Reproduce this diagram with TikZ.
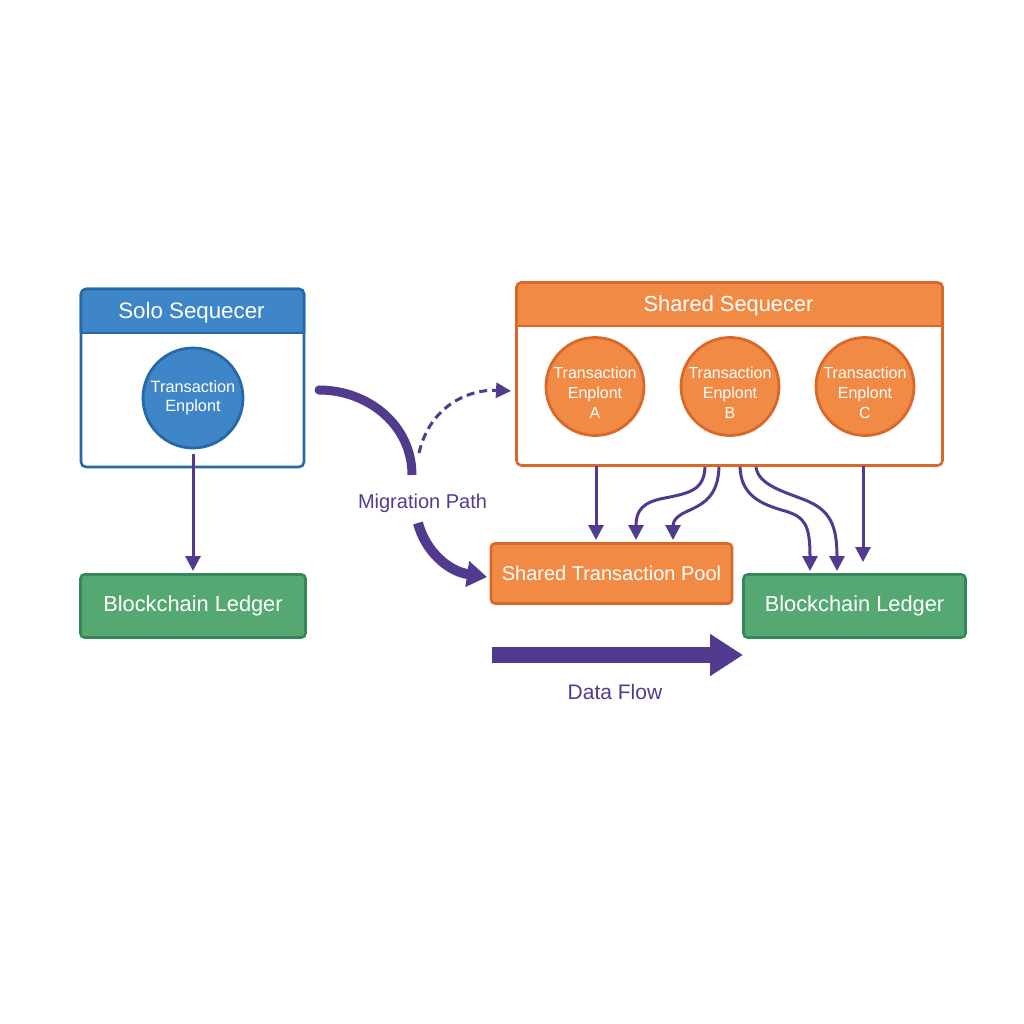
\documentclass[tikz,border=0pt]{standalone}
\usepackage{fontspec}
\setmainfont{Liberation Sans}
\usetikzlibrary{arrows.meta,calc,positioning}
\definecolor{blueF}{HTML}{3F86C8}
\definecolor{blueD}{HTML}{2768A8}
\definecolor{orF}{HTML}{F08A45}
\definecolor{orD}{HTML}{D9682B}
\definecolor{grF}{HTML}{55A871}
\definecolor{grD}{HTML}{36865A}
\definecolor{pur}{HTML}{523A8E}
\tikzset{
  x=1pt,y=-1pt,
  every node/.style={inner sep=0pt,outer sep=0pt},
  boxN/.style={draw,line width=2.6pt,rounded corners=5pt,fill=white,anchor=north west},
  solidbox/.style={draw,line width=2.6pt,rounded corners=4pt,anchor=north west,text=white},
  ledgerT/.style={font=\fontsize{21.8}{24}\selectfont},
  titleT/.style={text=white,font=\fontsize{21.8}{24}\selectfont},
  circT/.style={circle,draw,line width=2.8pt,text=white,align=center},
  triT/.style={text=white,align=center,font=\fontsize{16}{20}\selectfont},
  link/.style={draw=pur,line width=3pt,-{Triangle[length=15pt,width=15pt]}},
  purT/.style={text=pur,font=\fontsize{20}{24}\selectfont}
}
\newcommand{\lowered}[2]{\raisebox{-#1pt}{#2}}
\begin{document}
\begin{tikzpicture}
\useasboundingbox (0,0) rectangle (1024,1024);
% Solo sequencer
\node[boxN,draw=blueD,minimum width=223pt,minimum height=178pt] (solo) at (81,289) {};
\fill[blueF,rounded corners=5pt] (81,300) -- (81,289) -- (304,289) -- (304,300) -- cycle;
\fill[blueF] (81,296) rectangle (304,333);
\draw[blueD,line width=2.6pt,rounded corners=5pt] (81,333) -- (81,289) -- (304,289) -- (304,333);
\draw[blueD,line width=2.2pt] (81,333) -- (304,333);
\node[titleT,font=\fontsize{22.3}{24}\selectfont] (soloT) at (191.5,313) {Solo Sequecer};
\node[circT,fill=blueF,draw=blueD,minimum size=100pt,font=\fontsize{16.3}{19.5}\selectfont] (soloC) at (193,398) {Transaction\\Enplont};
% Shared sequencer
\node[boxN,draw=orD,minimum width=426pt,minimum height=183pt] (shared) at (516.5,282.5) {};
\fill[orF,rounded corners=5pt] (516.5,295) -- (516.5,282.5) -- (942.5,282.5) -- (942.5,295) -- cycle;
\fill[orF] (516.5,290) rectangle (942.5,326);
\draw[orD,line width=2.6pt,rounded corners=5pt] (516.5,326) -- (516.5,282.5) -- (942.5,282.5) -- (942.5,326);
\draw[orD,line width=2.2pt] (516.5,326) -- (942.5,326);
\node[titleT] (sharedT) at (728.5,306) {Shared Sequecer};
\node[circT,fill=orF,draw=orD,minimum size=98pt] (epA) at (595,386.5) {};
\node[circT,fill=orF,draw=orD,minimum size=98pt] (epB) at (730,386.5) {};
\node[circT,fill=orF,draw=orD,minimum size=98pt] (epC) at (865,386.5) {};
\node[triT] (epAT) at (595,393) {Transaction\\Enplont\\A};
\node[triT] (epBT) at (730,393) {Transaction\\Enplont\\B};
\node[triT] (epCT) at (865,393) {Transaction\\Enplont\\C};
% Lower boxes
\node[solidbox,ledgerT,fill=grF,draw=grD,minimum width=225pt,minimum height=63pt] (ledgerL) at (80.5,574.5) {\lowered{3}{Blockchain Ledger}};
\node[solidbox,font=\fontsize{20}{24}\selectfont,fill=orF,draw=orD,minimum width=241pt,minimum height=60pt] (pool) at (491,543.5) {Shared Transaction Pool};
\node[solidbox,ledgerT,fill=grF,draw=grD,minimum width=222pt,minimum height=63pt] (ledgerR) at (743.5,574.5) {\lowered{3}{Blockchain Ledger}};
% Labels
\node[purT] (mig) at (422.5,503) {Migration Path};
\node[purT,font=\fontsize{21}{24}\selectfont] (flow) at (615,692) {Data Flow};
% Free connector ends
\coordinate (soloOut) at (193,454);
\coordinate (soloIn) at (193,571);
\coordinate (migStart) at (319,390);
\coordinate (migEnd) at (412,475);
\coordinate (migStart2) at (418,523);
\coordinate (migTip) at (487,577);
\coordinate (dashStart) at (419,453);
\coordinate (dashTip) at (511,391);
\coordinate (flowStart) at (492,655);
\coordinate (flowTip) at (743,655);
% Connectors
\draw[link] (soloOut) -- (soloIn);
\draw[link] (596,466) -- (596,540);
\draw[link] (705,467) .. controls (704,490) and (690,493) .. (665,498) .. controls (643,502) and (636,510) .. (636,540);
\draw[link] (719,467) .. controls (718,495) and (705,503) .. (690,510) .. controls (678,515) and (673,520) .. (673,540);
\draw[link] (740,467) .. controls (741,495) and (760,504) .. (785,511) .. controls (805,517) and (810,525) .. (810,571);
\draw[link] (756,467) .. controls (758,485) and (785,492) .. (805,500) .. controls (830,510) and (837,525) .. (837,571);
\draw[link] (863,466) -- (863,562);
% Migration path
\fill[pur] (migStart) circle[radius=4.5pt];
\draw[pur,line width=9pt] (migStart) .. controls (368,390) and (412,425) .. (migEnd);
\draw[pur,line width=10pt,-{Triangle[length=20pt,width=25pt]}] (migStart2) .. controls (425,550) and (447,571) .. (migTip);
\draw[pur,line width=3pt,dash pattern=on 8pt off 5pt,-{Triangle[length=15pt,width=15pt]}] (dashStart) .. controls (430,405) and (470,389) .. (dashTip);
% Data flow
\draw[pur,line width=16pt,-{Triangle[length=33pt,width=40pt]}] (flowStart) -- (flowTip);
\end{tikzpicture}
\end{document}
